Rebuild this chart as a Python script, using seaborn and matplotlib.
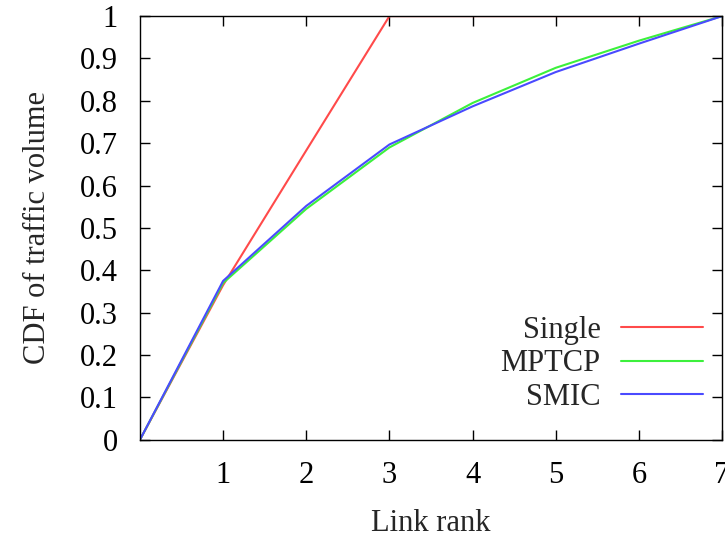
import matplotlib
matplotlib.use("Agg")
import matplotlib.pyplot as plt
import seaborn as sns
import pandas as pd

rank = [0, 1, 2, 3, 4, 5, 6, 7]
single = [0.0, 0.365, 0.683, 1.0, 1.0, 1.0, 1.0, 1.0]
mptcp = [0.0, 0.37, 0.545, 0.69, 0.795, 0.878, 0.942, 1.0]
smic = [0.0, 0.375, 0.552, 0.697, 0.787, 0.868, 0.935, 1.0]
series = ["Single", "MPTCP", "SMIC"]
colors = ["#ff4a4a", "#3cf03c", "#4a4aff"]
xticks = [1, 2, 3, 4, 5, 6, 7]
yticks = [0, 0.1, 0.2, 0.3, 0.4, 0.5, 0.6, 0.7, 0.8, 0.9, 1]

df = pd.DataFrame({
    "rank": rank * 3,
    "cdf": single + mptcp + smic,
    "method": [series[0]] * len(rank) + [series[1]] * len(rank) + [series[2]] * len(rank),
})

sns.set_style("ticks")
plt.rcParams["font.family"] = ["Liberation Serif", "DejaVu Serif"]

fs = 22
fig = plt.figure(figsize=(7.25, 5.37), dpi=100)
ax = fig.add_axes([0.193, 0.181, 0.803, 0.789])
sns.lineplot(data=df, x="rank", y="cdf", hue="method", hue_order=series,
             palette=colors, linewidth=1.5, ax=ax, legend=True)

ax.set_xlim(0, 7)
ax.set_ylim(0, 1)
ax.set_xticks(xticks)
ax.set_xticklabels([str(t) for t in xticks])
ax.set_yticks(yticks)
ax.set_yticklabels(["0" if t == 0 else ("1" if t == 1 else f"{t:.1f}") for t in yticks])
ax.tick_params(direction="in", top=True, right=True, length=7, width=1,
               labelsize=fs, colors="black")
ax.tick_params(axis="x", pad=15)
ax.tick_params(axis="y", pad=16)
for s in ax.spines.values():
    s.set_visible(True)
    s.set_color("black")
    s.set_linewidth(1)
ax.set_xlabel("Link rank", fontsize=fs, labelpad=14)
ax.set_ylabel("CDF of traffic volume", fontsize=fs, labelpad=20)

handles, labels = ax.get_legend_handles_labels()
ax.legend(handles, labels, loc="lower right", frameon=False, markerfirst=False,
          fontsize=fs, handlelength=2.7, handletextpad=0.65, labelspacing=0.15,
          borderpad=0, borderaxespad=0,
          bbox_to_anchor=(1 - 19 / 582, 28 / 424))

fig.savefig("out.png", dpi=100)
